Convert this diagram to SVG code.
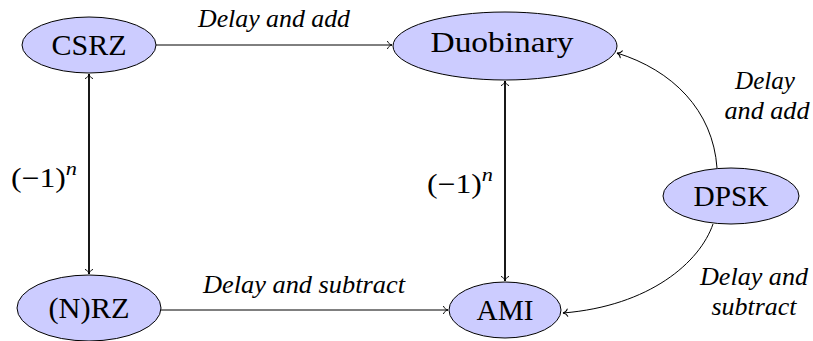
<svg xmlns="http://www.w3.org/2000/svg" width="813" height="341" viewBox="0 0 813 341">
<style>
.node{fill:#ccccff;stroke:#000;stroke-width:1}
text{font-family:'Liberation Serif','Times New Roman',serif;fill:#000}
.nt{font-size:30px;text-anchor:middle}
.lbl{font-size:26px;font-style:italic;text-anchor:middle}
.math{font-size:27px}
.e{fill:none;stroke:#000;stroke-width:1}
.thick{stroke-width:1.8}
</style>
<defs>
<marker id="arr" viewBox="-6 -5 8 10" markerWidth="8" markerHeight="10" refX="0" refY="0" orient="auto-start-reverse" markerUnits="userSpaceOnUse">
<path d="M-4.5,-3.6 C-3.8,-1.6 -1.6,-0.4 0,0 C-1.6,0.4 -3.8,1.6 -4.5,3.6" fill="none" stroke="#000" stroke-width="1" stroke-linecap="round"/>
</marker>
</defs>
<g id="connectors">
<path class="e" d="M156,45 H392" marker-end="url(#arr)"/>
<path class="e" d="M161,310 H448" marker-end="url(#arr)"/>
<path class="e thick" d="M89,74 V274" marker-start="url(#arr)" marker-end="url(#arr)"/>
<path class="e thick" d="M505,81 V281" marker-start="url(#arr)" marker-end="url(#arr)"/>
<path class="e" d="M717,168 C713,110 672,70 617,53" marker-end="url(#arr)"/>
<path class="e" d="M713,224 C700,262 650,306 563,313" marker-end="url(#arr)"/>
</g>
<g id="labels">
<text class="lbl" x="274" y="27" textLength="152" lengthAdjust="spacingAndGlyphs">Delay and add</text>
<text class="lbl" x="304" y="293" textLength="202" lengthAdjust="spacingAndGlyphs">Delay and subtract</text>
<text class="lbl" x="765" y="89" textLength="60" lengthAdjust="spacingAndGlyphs">Delay</text>
<text class="lbl" x="767" y="119" textLength="85" lengthAdjust="spacingAndGlyphs">and add</text>
<text class="lbl" x="754" y="285" textLength="108" lengthAdjust="spacingAndGlyphs">Delay and</text>
<text class="lbl" x="754" y="315" textLength="85" lengthAdjust="spacingAndGlyphs">subtract</text>
<text class="math" x="11" y="187" textLength="66" lengthAdjust="spacingAndGlyphs">(−1)<tspan font-style="italic" font-size="19px" dy="-12">n</tspan></text>
<text class="math" x="427" y="193" textLength="66" lengthAdjust="spacingAndGlyphs">(−1)<tspan font-style="italic" font-size="19px" dy="-12">n</tspan></text>
</g>
<g id="CSRZ">
<ellipse class="node" cx="89" cy="45" rx="67" ry="28"/>
<text class="nt" x="89" y="55" textLength="75" lengthAdjust="spacingAndGlyphs">CSRZ</text>
</g>
<g id="Duobinary">
<ellipse class="node" cx="505" cy="46" rx="112" ry="34"/>
<text class="nt" x="502" y="52" textLength="143" lengthAdjust="spacingAndGlyphs">Duobinary</text>
</g>
<g id="NRZ">
<ellipse class="node" cx="89" cy="308" rx="72" ry="33"/>
<text class="nt" x="89" y="318" textLength="81" lengthAdjust="spacingAndGlyphs">(N)RZ</text>
</g>
<g id="AMI">
<ellipse class="node" cx="505" cy="310" rx="56" ry="28"/>
<text class="nt" x="505" y="320" textLength="57" lengthAdjust="spacingAndGlyphs">AMI</text>
</g>
<g id="DPSK">
<ellipse class="node" cx="731" cy="196" rx="68" ry="28"/>
<text class="nt" x="731" y="206" textLength="75" lengthAdjust="spacingAndGlyphs">DPSK</text>
</g>
</svg>
